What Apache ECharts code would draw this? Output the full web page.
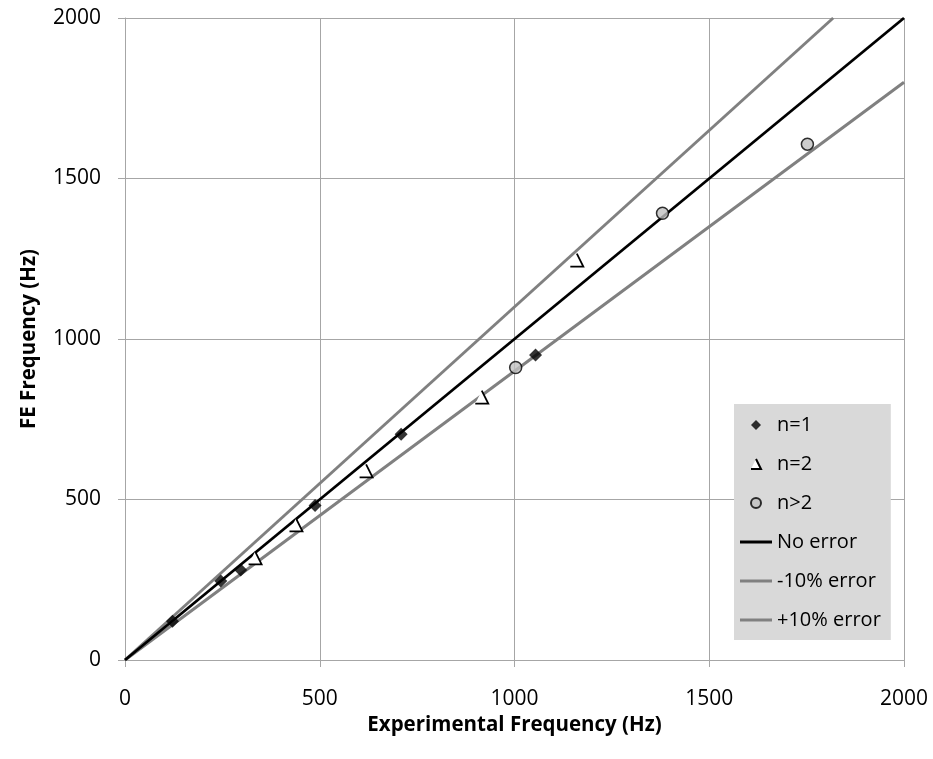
<!DOCTYPE html>
<html>
<head>
<meta charset="utf-8">
<title>FE vs Experimental Frequency</title>
<script src="https://cdn.jsdelivr.net/npm/echarts@6/dist/echarts.min.js"></script>
<style>
  html, body { margin: 0; padding: 0; background: #ffffff; }
  #chart { width: 933px; height: 759px; }
</style>
</head>
<body>
<div id="chart"></div>
<script>
// Measured modes: [experimental Hz, FE Hz]
const modesN1 = [[122, 121], [246, 246], [297, 280], [488, 481], [709, 703], [1054, 950]];
const modesN2 = [[334, 318], [439, 421], [619, 589], [916, 819], [1160, 1246]];
const modesN3 = [[1003, 911], [1380, 1392], [1752, 1607]];

// Reference lines: perfect agreement and ±10 % bands
const noErrorLine = [[0, 0], [2000, 2000]];
const minus10Line = [[0, 0], [2000, 1800]];
const plus10Line = [[0, 0], [1818.18, 2000]];

const axisTicks = [0, 500, 1000, 1500, 2000];

const FONT = '"Open Sans", "Liberation Sans", sans-serif';
// marker shapes as paths so they keep their aspect in the legend too
const diamondPath = 'path://M5,0 L10,5 L5,10 L0,5 Z';
// open triangle: only right side and base are stroked
const openTriangle = 'path://M5,0 L10,10 L0,10';
// thin bar used as legend icon for the reference lines
const lineIcon = 'path://M0,0 L32,0 L32,3 L0,3 Z';

const chart = echarts.init(document.getElementById('chart'), null, { renderer: 'canvas' });

const gridColor = '#a6a6a6';

function axisCommon(name, nameGap, labelMargin) {
  return {
    type: 'value',
    min: axisTicks[0],
    max: axisTicks[axisTicks.length - 1],
    interval: axisTicks[1] - axisTicks[0],
    name: name,
    nameLocation: 'middle',
    nameGap: nameGap,
    nameTextStyle: { fontFamily: FONT, fontWeight: 'bold', fontSize: 20.5, color: '#000' },
    axisLine: { show: true, onZero: false, lineStyle: { color: gridColor, width: 1 } },
    axisTick: { show: true, inside: false, length: 7, lineStyle: { color: gridColor, width: 1 } },
    axisLabel: {
      fontFamily: FONT, fontSize: 21, color: '#000', margin: labelMargin,
      formatter: v => String(v)
    },
    splitLine: { show: true, lineStyle: { color: gridColor, width: 1 } }
  };
}

chart.setOption({
  animation: false,
  backgroundColor: '#ffffff',
  grid: { left: 125, right: 29, top: 18, bottom: 99, containLabel: false },
  xAxis: axisCommon('Experimental Frequency (Hz)', 46, 29),
  yAxis: axisCommon('FE Frequency (Hz)', 85, 24),
  legend: {
    orient: 'vertical',
    left: 734,
    top: 404,
    backgroundColor: '#d9d9d9',
    padding: [11, 10, 10, 6],
    itemWidth: 32,
    itemHeight: 10,
    itemGap: 19,
    textStyle: { fontFamily: FONT, fontSize: 20, color: '#000', lineHeight: 20 },
    data: [
      { name: 'n=1' },
      { name: 'n=2' },
      { name: 'n>2' },
      { name: 'No error', icon: lineIcon },
      { name: '-10% error', icon: lineIcon },
      { name: '+10% error', icon: lineIcon }
    ]
  },
  series: [
    {
      name: 'No error', type: 'line', data: noErrorLine, symbol: 'none', z: 3,
      lineStyle: { color: '#000000', width: 2.8 }, itemStyle: { color: '#000000' }
    },
    {
      name: '-10% error', type: 'line', data: minus10Line, symbol: 'none', z: 2,
      lineStyle: { color: '#808080', width: 3 }, itemStyle: { color: '#808080' }
    },
    {
      name: '+10% error', type: 'line', data: plus10Line, symbol: 'none', z: 2,
      lineStyle: { color: '#808080', width: 3 }, itemStyle: { color: '#808080' }
    },
    {
      name: 'n=1', type: 'scatter', data: modesN1, z: 5,
      symbol: diamondPath, symbolSize: 13, symbolKeepAspect: true,
      itemStyle: { color: '#000000', borderColor: '#000000', borderWidth: 0 }
    },
    {
      name: 'n=2', type: 'scatter', data: modesN2, z: 5,
      symbol: openTriangle, symbolSize: 13, symbolKeepAspect: true,
      itemStyle: { color: '#ffffff', borderColor: '#000000', borderWidth: 1.8, opacity: 1 }
    },
    {
      name: 'n>2', type: 'scatter', data: modesN3, z: 5,
      symbol: 'circle', symbolSize: 12, symbolKeepAspect: true,
      itemStyle: { color: '#c0c0c0', borderColor: '#000000', borderWidth: 1.5 }
    }
  ]
});
</script>
</body>
</html>
